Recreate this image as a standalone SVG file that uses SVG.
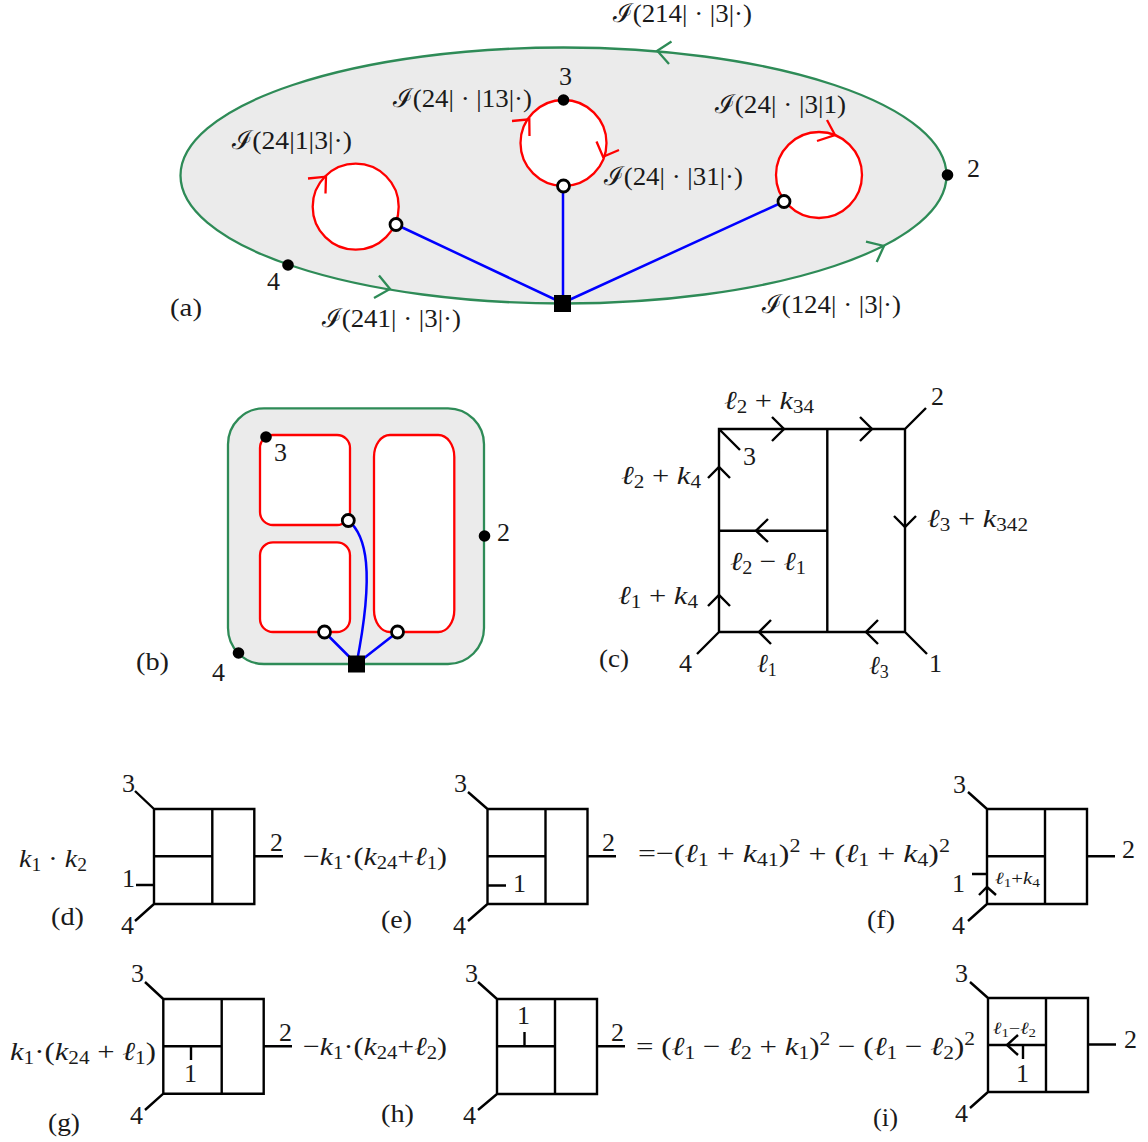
<svg xmlns="http://www.w3.org/2000/svg" width="1148" height="1142" viewBox="0 0 1148 1142">
<style>
text{font-family:"Liberation Serif","DejaVu Serif",serif;font-size:26px;fill:#1a1a1a}
.i{font-style:italic}
.b{baseline-shift:-4px;font-size:18px}
.u{baseline-shift:10px;font-size:18px}
.sm{font-size:17px}
.sm .b{font-size:12.500px;baseline-shift:-3px}
.g{fill:none;stroke:#2e8b57;stroke-width:2.300}
.r{fill:none;stroke:#f00;stroke-width:2.300}
.rw{fill:#fff;stroke:#f00;stroke-width:2.300}
.bl{fill:none;stroke:#00f;stroke-width:2.500}
.k{fill:none;stroke:#000;stroke-width:2.400}
.o{fill:#fff;stroke:#000;stroke-width:2.800}
</style>
<rect width="1148" height="1142" fill="#fff"/>

<g id="panel-a">
<g id="a-region"><ellipse cx="563.5" cy="175.5" rx="383" ry="128" fill="#ebebeb" stroke="#2e8b57" stroke-width="2.300"/></g>
<g id="a-loop1"><circle class="rw" cx="355.7" cy="206.7" r="43"/></g>
<g id="a-loop2"><circle class="rw" cx="563.5" cy="143" r="43"/></g>
<g id="a-loop3"><circle class="rw" cx="819" cy="175" r="43"/></g>
<g id="a-connectors">
<path class="bl" d="M396 224.500L562.500 303M563 186V303M784 201.500L562.500 303"/>
<path class="g" d="M671.500 41.500L657.300 50.700L669 64M379 275.500L390 289L374 298M866 241.700L884 246L876.700 262"/>
<path class="r" d="M308 178.500L326 176.700L325.500 193.500M512 121L529.300 119.300L529.500 136M596.500 141.500L603 156.700L619 150M827 120L835 135L817 141"/>
</g>
<g id="a-n1"><circle class="o" cx="396" cy="224.500" r="6"/></g>
<g id="a-n2"><circle class="o" cx="563.500" cy="186" r="6"/></g>
<g id="a-n3"><circle class="o" cx="784" cy="201.500" r="6"/></g>
<g id="a-hub"><rect x="554" y="295" width="17" height="17"/></g>
<g id="a-p3"><circle cx="563.500" cy="100" r="5.800"/><text x="559" y="85">3</text></g>
<g id="a-p2"><circle cx="947.500" cy="175" r="5.800"/><text x="967" y="177">2</text></g>
<g id="a-p4"><circle cx="288" cy="265" r="5.800"/><text x="267" y="290">4</text></g>
<text x="613" y="22" textLength="139" lengthAdjust="spacingAndGlyphs">ℐ(214| · |3|·)</text>
<text x="393" y="107" textLength="139" lengthAdjust="spacingAndGlyphs">ℐ(24| · |13|·)</text>
<text x="232" y="149" textLength="120" lengthAdjust="spacingAndGlyphs">ℐ(24|1|3|·)</text>
<text x="715" y="113" textLength="131" lengthAdjust="spacingAndGlyphs">ℐ(24| · |3|1)</text>
<text x="604" y="185" textLength="139" lengthAdjust="spacingAndGlyphs">ℐ(24| · |31|·)</text>
<text x="322" y="327" textLength="139" lengthAdjust="spacingAndGlyphs">ℐ(241| · |3|·)</text>
<text x="762" y="313" textLength="139" lengthAdjust="spacingAndGlyphs">ℐ(124| · |3|·)</text>
<text x="170" y="316" textLength="32" lengthAdjust="spacingAndGlyphs">(a)</text>
</g>

<g id="panel-b">
<g id="b-region"><rect x="228" y="408.300" width="256" height="255.700" rx="36" fill="#ebebeb" stroke="#2e8b57" stroke-width="2.300"/></g>
<g id="b-loop1"><rect class="rw" x="260" y="435" width="90" height="90" rx="13"/></g>
<g id="b-loop2"><rect class="rw" x="260" y="542.300" width="90" height="89.700" rx="13"/></g>
<g id="b-loop3"><rect class="rw" x="374" y="435" width="80.300" height="197" rx="16" ry="22"/></g>
<g id="b-connectors"><path class="bl" d="M348.300 520.500C366 535 375 570 356.500 664M324.500 632L356.500 664M397.500 632L356.500 664"/></g>
<g id="b-n1"><circle class="o" cx="348.300" cy="520.500" r="6"/></g>
<g id="b-n2"><circle class="o" cx="324.500" cy="632" r="6"/></g>
<g id="b-n3"><circle class="o" cx="397.500" cy="632" r="6"/></g>
<g id="b-hub"><rect x="348" y="655.500" width="17" height="17"/></g>
<g id="b-p3"><circle cx="266" cy="437" r="5.800"/><text x="274" y="461">3</text></g>
<g id="b-p2"><circle cx="484.500" cy="536" r="5.800"/><text x="497" y="541">2</text></g>
<g id="b-p4"><circle cx="238.500" cy="653" r="5.800"/><text x="212" y="681">4</text></g>
<text x="136" y="670" textLength="33" lengthAdjust="spacingAndGlyphs">(b)</text>
</g>

<g id="panel-c">
<g id="c-graph"><path class="k" d="M719 429H905V632H719ZM827.300 429V632M719 530.700H827.300M905 429L926 408M719 429L740 450M719 632L697 654M905 632L927 654"/></g>
<g id="c-arrows"><path class="k" d="M772 417L784 429L772 441M860 417L872 429L860 441M708 478L719 467L730 478M708 606L719 595L730 606M768 519L756 530.700L768 542M771 620L759 632L771 644M878 620L866 632L878 644M894 516L905 527L916 516"/></g>
<text x="931" y="405">2</text><text x="743" y="465">3</text><text x="679" y="672">4</text><text x="929" y="672">1</text>
<text x="724" y="409" textLength="90" lengthAdjust="spacingAndGlyphs"><tspan class="i">ℓ</tspan><tspan class="b">2</tspan> + <tspan class="i">k</tspan><tspan class="b">34</tspan></text>
<text x="621" y="484" textLength="80" lengthAdjust="spacingAndGlyphs"><tspan class="i">ℓ</tspan><tspan class="b">2</tspan> + <tspan class="i">k</tspan><tspan class="b">4</tspan></text>
<text x="927" y="527" textLength="101" lengthAdjust="spacingAndGlyphs"><tspan class="i">ℓ</tspan><tspan class="b">3</tspan> + <tspan class="i">k</tspan><tspan class="b">342</tspan></text>
<text x="730" y="570" textLength="76" lengthAdjust="spacingAndGlyphs"><tspan class="i">ℓ</tspan><tspan class="b">2</tspan> − <tspan class="i">ℓ</tspan><tspan class="b">1</tspan></text>
<text x="618" y="604" textLength="80" lengthAdjust="spacingAndGlyphs"><tspan class="i">ℓ</tspan><tspan class="b">1</tspan> + <tspan class="i">k</tspan><tspan class="b">4</tspan></text>
<text x="757" y="672"><tspan class="i">ℓ</tspan><tspan class="b">1</tspan></text>
<text x="869" y="674"><tspan class="i">ℓ</tspan><tspan class="b">3</tspan></text>
<text x="599" y="667" textLength="30" lengthAdjust="spacingAndGlyphs">(c)</text>
</g>

<g id="panel-d">
<g id="d-graph"><path class="k" d="M154 809H254.300V904H154ZM212.300 809V904M154 856.300H212.300M154 809L135 791M154 904L135 921M254.300 856.300H283M154 885H136"/></g>
<text x="122" y="792">3</text><text x="122" y="887">1</text><text x="121" y="934">4</text><text x="270" y="851">2</text>
<text x="19" y="867" textLength="68" lengthAdjust="spacingAndGlyphs"><tspan class="i">k</tspan><tspan class="b">1</tspan> · <tspan class="i">k</tspan><tspan class="b">2</tspan></text>
<text x="51" y="925" textLength="33" lengthAdjust="spacingAndGlyphs">(d)</text>
</g>

<g id="panel-e">
<g id="e-graph"><path class="k" d="M487.500 809H587.500V904H487.500ZM545.500 809V904M487.500 856.300H545.500M487.500 809L468 792M487.500 904L468 921M587.500 856.300H616M487.500 885.500H506"/></g>
<text x="454" y="792">3</text><text x="453" y="934">4</text><text x="602" y="851">2</text><text x="513" y="892">1</text>
<text x="303" y="865" textLength="144" lengthAdjust="spacingAndGlyphs">−<tspan class="i">k</tspan><tspan class="b">1</tspan>·(<tspan class="i">k</tspan><tspan class="b">24</tspan>+<tspan class="i">ℓ</tspan><tspan class="b">1</tspan>)</text>
<text x="381" y="928" textLength="31" lengthAdjust="spacingAndGlyphs">(e)</text>
</g>

<g id="panel-f">
<g id="f-graph"><path class="k" d="M987 809H1087V904H987ZM1045 809V904M987 856.300H1045M987 809L968 792M987 904L968 921M1087 856.300H1115M972 874H988"/></g>
<g id="f-arrow"><path class="k" d="M979 895L987 887L996 895"/></g>
<text x="953" y="793">3</text><text x="952" y="892">1</text><text x="952" y="934">4</text><text x="1122" y="858">2</text>
<text class="sm" x="995" y="884" textLength="45" lengthAdjust="spacingAndGlyphs"><tspan class="i">ℓ</tspan><tspan class="b">1</tspan>+<tspan class="i">k</tspan><tspan class="b">4</tspan></text>
<text x="638" y="862" textLength="312" lengthAdjust="spacingAndGlyphs">=−(<tspan class="i">ℓ</tspan><tspan class="b">1</tspan> + <tspan class="i">k</tspan><tspan class="b">41</tspan>)<tspan class="u">2</tspan> + (<tspan class="i">ℓ</tspan><tspan class="b">1</tspan> + <tspan class="i">k</tspan><tspan class="b">4</tspan>)<tspan class="u">2</tspan></text>
<text x="867" y="928" textLength="28" lengthAdjust="spacingAndGlyphs">(f)</text>
</g>

<g id="panel-g">
<g id="g-graph"><path class="k" d="M163.300 999H263.700V1093.700H163.300ZM221.700 999V1093.700M163.300 1046.300H221.700M163.300 999L145 982M163.300 1093.700L145 1110M263.700 1046.300H292M191 1046.300V1060"/></g>
<text x="131" y="982">3</text><text x="184" y="1082">1</text><text x="130" y="1124">4</text><text x="279" y="1041">2</text>
<text x="10" y="1060" textLength="146" lengthAdjust="spacingAndGlyphs"><tspan class="i">k</tspan><tspan class="b">1</tspan>·(<tspan class="i">k</tspan><tspan class="b">24</tspan> + <tspan class="i">ℓ</tspan><tspan class="b">1</tspan>)</text>
<text x="48" y="1131" textLength="32" lengthAdjust="spacingAndGlyphs">(g)</text>
</g>

<g id="panel-h">
<g id="h-graph"><path class="k" d="M497 999H597V1094H497ZM555 999V1094M497 1046.300H555M497 999L478 982M497 1094L478 1110M597 1046.300H625M524.500 1032V1046.300"/></g>
<text x="465" y="982">3</text><text x="463" y="1124">4</text><text x="517" y="1024">1</text><text x="611" y="1041">2</text>
<text x="303" y="1055" textLength="144" lengthAdjust="spacingAndGlyphs">−<tspan class="i">k</tspan><tspan class="b">1</tspan>·(<tspan class="i">k</tspan><tspan class="b">24</tspan>+<tspan class="i">ℓ</tspan><tspan class="b">2</tspan>)</text>
<text x="381" y="1122" textLength="33" lengthAdjust="spacingAndGlyphs">(h)</text>
</g>

<g id="panel-i">
<g id="i-graph"><path class="k" d="M988 998H1088V1092H988ZM1046 998V1092M988 1045H1046M988 998L970 982M988 1092L970 1108M1088 1044.500H1116M1023 1045V1059"/></g>
<g id="i-arrow"><path class="k" d="M1018 1035L1007 1045L1018 1055"/></g>
<text x="955" y="982">3</text><text x="955" y="1122">4</text><text x="1124" y="1048">2</text><text x="1016" y="1082">1</text>
<text class="sm" x="993" y="1034" textLength="43" lengthAdjust="spacingAndGlyphs"><tspan class="i">ℓ</tspan><tspan class="b">1</tspan>−<tspan class="i">ℓ</tspan><tspan class="b">2</tspan></text>
<text x="636" y="1055" textLength="339" lengthAdjust="spacingAndGlyphs">= (<tspan class="i">ℓ</tspan><tspan class="b">1</tspan> − <tspan class="i">ℓ</tspan><tspan class="b">2</tspan> + <tspan class="i">k</tspan><tspan class="b">1</tspan>)<tspan class="u">2</tspan> − (<tspan class="i">ℓ</tspan><tspan class="b">1</tspan> − <tspan class="i">ℓ</tspan><tspan class="b">2</tspan>)<tspan class="u">2</tspan></text>
<text x="873" y="1126" textLength="25" lengthAdjust="spacingAndGlyphs">(i)</text>
</g>
</svg>
